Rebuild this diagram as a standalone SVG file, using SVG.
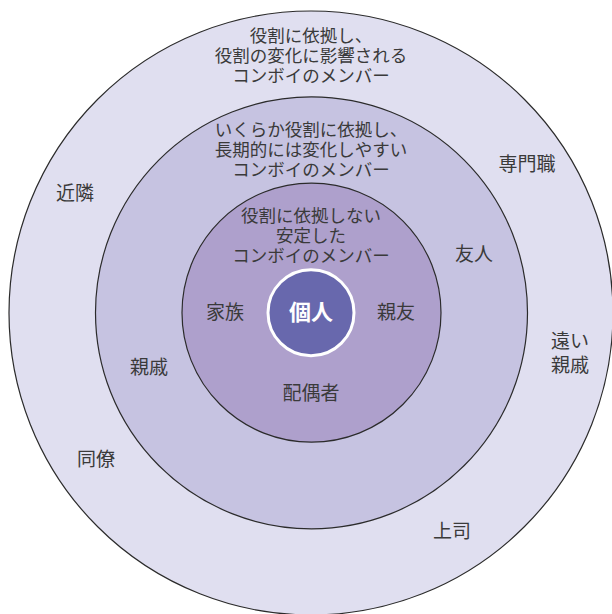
<svg xmlns="http://www.w3.org/2000/svg" width="612" height="614" viewBox="0 0 612 614">
<style>
.ring{stroke:#2b2b2b;stroke-width:1.2}
text{font-family:"Noto Sans CJK JP","Noto Sans",sans-serif;fill:#3a3a3a;text-anchor:middle}
.d{font-size:17.5px}
.l{font-size:19px}
.c{font-size:22px;fill:#ffffff;font-weight:bold}
</style>
<rect width="612" height="614" fill="#ffffff"/>
<g id="outer">
<circle class="ring" cx="311" cy="313" r="302" fill="#e0dff0"/>
<text class="d" x="311" y="42">役割に依拠し、</text>
<text class="d" x="311" y="62">役割の変化に影響される</text>
<text class="d" x="311" y="82">コンボイのメンバー</text>
</g>
<g id="middle">
<circle class="ring" cx="311.5" cy="312.8" r="216" fill="#c6c3e1"/>
<text class="d" x="311" y="136">いくらか役割に依拠し、</text>
<text class="d" x="311" y="156">長期的には変化しやすい</text>
<text class="d" x="311" y="176">コンボイのメンバー</text>
</g>
<g id="inner">
<circle class="ring" cx="311.5" cy="312.7" r="129.5" fill="#aea0cc"/>
<text class="d" x="311" y="222">役割に依拠しない</text>
<text class="d" x="311" y="242">安定した</text>
<text class="d" x="311" y="262">コンボイのメンバー</text>
</g>
<g id="self">
<circle cx="311" cy="312.7" r="43" fill="#6868ad" stroke="#ffffff" stroke-width="3"/>
<text class="c" x="311" y="320">個人</text>
</g>
<g id="family"><text class="l" x="225" y="319">家族</text></g>
<g id="bestfriend"><text class="l" x="396" y="319">親友</text></g>
<g id="spouse"><text class="l" x="311" y="400">配偶者</text></g>
<g id="relatives"><text class="l" x="149" y="374">親戚</text></g>
<g id="friend"><text class="l" x="474" y="261">友人</text></g>
<g id="professional"><text class="l" x="527" y="171">専門職</text></g>
<g id="neighbor"><text class="l" x="75" y="200">近隣</text></g>
<g id="distant"><text class="l" x="570" y="348">遠い</text><text class="l" x="570" y="372">親戚</text></g>
<g id="colleague"><text class="l" x="96" y="466">同僚</text></g>
<g id="boss"><text class="l" x="452" y="538">上司</text></g>
<g id="connectors"/>
</svg>
